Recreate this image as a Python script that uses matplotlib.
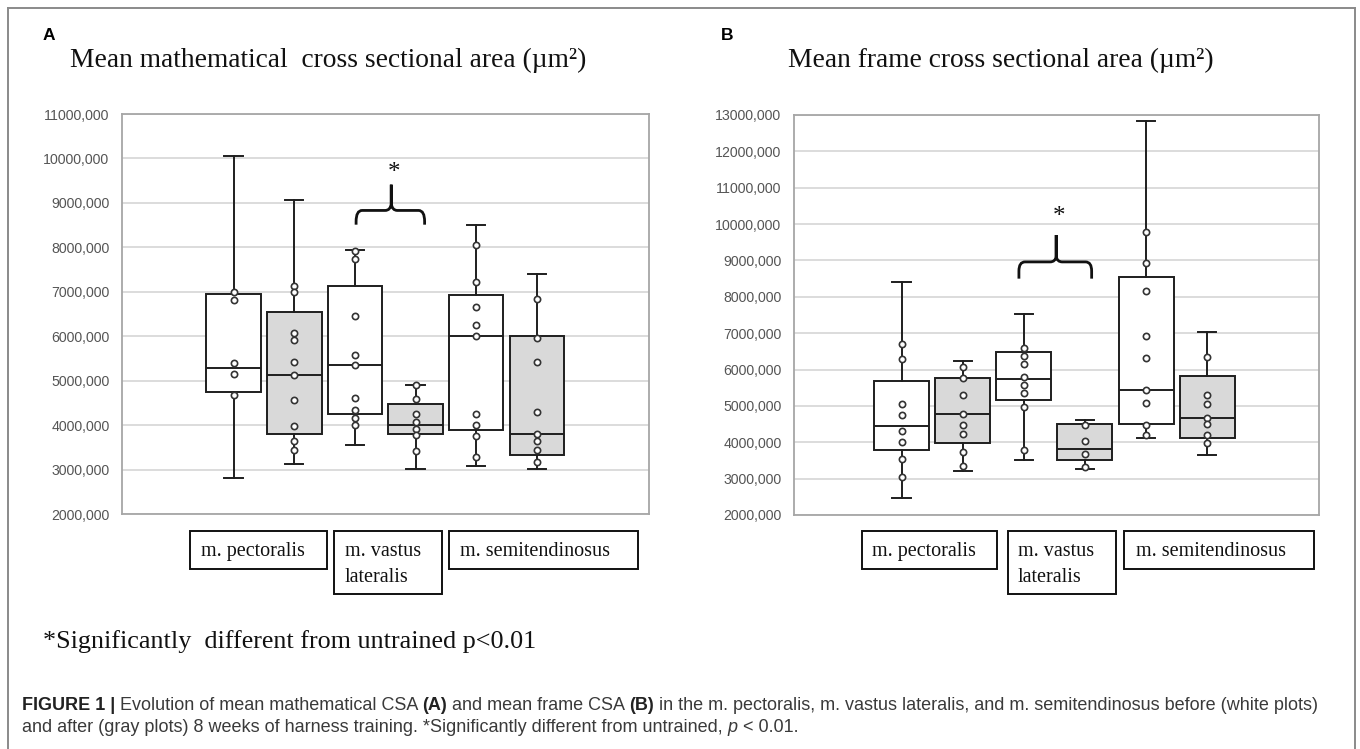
import numpy as np
import matplotlib
matplotlib.use("Agg")
import matplotlib.pyplot as plt
from matplotlib.patches import Rectangle, PathPatch
from matplotlib.path import Path
from matplotlib import font_manager

# ---------------- data (values in millions of µm²) -------------
muscles = ["m. pectoralis", "m. vastus\nlateralis", "m. semitendinosus"]
groups = ["untrained", "trained", "untrained", "trained", "untrained", "trained"]

A_whishi = [10.06, 9.06, 7.93, 4.91, 8.50, 7.41]
A_q3 = [6.96, 6.54, 7.14, 4.47, 6.92, 6.00]
A_med = [5.28, 5.13, 5.36, 4.00, 6.00, 3.80]
A_q1 = [4.74, 3.80, 4.24, 3.80, 3.89, 3.32]
A_whislo = [2.80, 3.12, 3.56, 3.02, 3.08, 3.02]
A_points = [
    [7.00, 6.81, 5.39, 5.15, 4.68],
    [7.14, 6.99, 6.08, 5.92, 5.41, 5.13, 4.56, 3.97, 3.65, 3.44],
    [7.92, 7.73, 6.46, 5.57, 5.36, 4.62, 4.33, 4.16, 4.00],
    [4.91, 4.59, 4.25, 4.08, 3.91, 3.77, 3.41],
    [8.06, 7.23, 6.66, 6.25, 6.00, 4.24, 4.00, 3.76, 3.29],
    [6.84, 5.95, 5.41, 4.30, 3.81, 3.65, 3.44, 3.16],
]

B_whishi = [8.41, 6.24, 7.54, 4.61, 12.83, 7.04]
B_q3 = [5.69, 5.77, 6.49, 4.50, 8.55, 5.83]
B_med = [4.44, 4.79, 5.74, 3.82, 5.43, 4.68]
B_q1 = [3.79, 3.97, 5.15, 3.50, 4.50, 4.11]
B_whislo = [2.46, 3.21, 3.50, 3.27, 4.11, 3.65]
B_points = [
    [6.70, 6.30, 5.06, 4.75, 4.32, 4.00, 3.53, 3.05],
    [6.06, 5.77, 5.30, 4.79, 4.47, 4.22, 3.72, 3.34],
    [6.59, 6.37, 6.15, 5.80, 5.58, 5.36, 4.97, 3.79],
    [4.47, 4.04, 3.68, 3.32],
    [9.78, 8.92, 8.15, 6.93, 6.31, 5.45, 5.09, 4.47, 4.20],
    [6.35, 5.30, 5.06, 4.66, 4.50, 4.20, 3.97],
]

A_ticks = list(range(2, 12))
B_ticks = list(range(2, 14))

title_A = "Mean mathematical  cross sectional area (\u00b5m\u00b2)"
title_B = "Mean frame cross sectional area (\u00b5m\u00b2)"
note = "*Significantly  different from untrained p<0.01"

# ---------------- figure ----------------
W, H = 1360, 749
fig = plt.figure(figsize=(W / 100, H / 100), dpi=100)
fig.patch.set_facecolor("white")

def fx(px):
    return px / W

def fy(py):
    return 1 - py / H

SERIF = "Liberation Serif"
names = {f.name for f in font_manager.fontManager.ttflist}
CAP_FAMILY = "Liberation Sans Narrow" if "Liberation Sans Narrow" in names else "Liberation Sans"
CAP_SIZE = 15.4 if CAP_FAMILY == "Liberation Sans Narrow" else 13.0

# outer frame (open at bottom)
for xs, ys in [([8, 8], [8, 760]), ([8, 1355], [8, 8]), ([1355, 1355], [8, 760])]:
    fig.add_artist(plt.Line2D([fx(v) for v in xs], [fy(v) for v in ys],
                              transform=fig.transFigure, color="#8a8a8a", lw=1.4))

WHITE = "#ffffff"
GRAY = "#d9d9d9"
box_colors = [WHITE, GRAY, WHITE, GRAY, WHITE, GRAY]
LINE = "#1e1e1e"


def brace_path(x0, x1, xc, y_end, y_mid, y_top, rx, ry):
    verts = [
        (x0, y_end), (x0, y_mid - ry),
        (x0, y_mid), (x0 + rx, y_mid),
        (xc - rx, y_mid),
        (xc - rx * 0.15, y_mid), (xc, y_mid + ry * 0.6),
        (xc, y_top),
        (xc, y_mid + ry * 0.6),
        (xc + rx * 0.15, y_mid), (xc + rx, y_mid),
        (x1 - rx, y_mid),
        (x1, y_mid), (x1, y_mid - ry),
        (x1, y_end),
    ]
    codes = [Path.MOVETO, Path.LINETO,
             Path.CURVE3, Path.CURVE3,
             Path.LINETO,
             Path.CURVE3, Path.CURVE3,
             Path.LINETO,
             Path.LINETO,
             Path.CURVE3, Path.CURVE3,
             Path.LINETO,
             Path.CURVE3, Path.CURVE3,
             Path.LINETO]
    return Path(verts, codes)


def draw_panel(rect, whislo, q1, med, q3, whishi, points, ticks, xlim, brace):
    ax = fig.add_axes(rect)
    stats = []
    for i in range(6):
        stats.append(dict(whislo=whislo[i] * 1e6, q1=q1[i] * 1e6, med=med[i] * 1e6,
                          q3=q3[i] * 1e6, whishi=whishi[i] * 1e6, fliers=[]))
    pos = np.arange(1, 7)
    bp = ax.bxp(stats, positions=pos, widths=0.9, patch_artist=True, showfliers=False,
                capwidths=0.3,
                boxprops=dict(edgecolor=LINE, linewidth=1.4),
                medianprops=dict(color=LINE, linewidth=1.4),
                whiskerprops=dict(color=LINE, linewidth=1.4),
                capprops=dict(color=LINE, linewidth=1.4), zorder=3)
    for patch, c in zip(bp["boxes"], box_colors):
        patch.set_facecolor(c)
    for i, pts in enumerate(points):
        ax.plot(np.full(len(pts), pos[i]), np.array(pts) * 1e6, linestyle="none",
                marker="o", markersize=4.5, markerfacecolor="white",
                markeredgecolor="#333333", markeredgewidth=1.2, zorder=4)
    ax.set_xlim(*xlim)
    ax.set_ylim(ticks[0] * 1e6, ticks[-1] * 1e6)
    ax.set_yticks([t * 1e6 for t in ticks])
    ax.set_yticklabels([f"{t}000,000" for t in ticks], fontfamily="Liberation Sans",
                       fontsize=10.2, color="#555555")
    ax.set_xticks([])
    ax.tick_params(axis="y", length=0, pad=9)
    ax.grid(axis="y", color="#d9d9d9", linewidth=1.3, zorder=0)
    ax.set_axisbelow(True)
    for s in ax.spines.values():
        s.set_color("#a6a6a6")
        s.set_linewidth(1.3)
    # significance brace
    x0, x1, xc, y_end, y_mid, y_top, ys = brace
    p = brace_path(x0, x1, xc, y_end * 1e6, y_mid * 1e6, y_top * 1e6, 0.1, 0.25e6)
    ax.add_patch(PathPatch(p, facecolor="none", edgecolor="#111111", lw=2.0, zorder=5))
    ax.text(xc + 0.05, ys * 1e6, "*", family=SERIF, fontsize=18, ha="center", va="center",
            color="#111111")
    return ax


axA = draw_panel([fx(122), fy(514), fx(649) - fx(122), fy(114) - fy(514)],
                 A_whislo, A_q1, A_med, A_q3, A_whishi, A_points, A_ticks, (-0.84, 7.85),
                 (3.02, 4.15, 3.6, 8.51, 8.83, 9.41, 9.68))
axB = draw_panel([fx(794), fy(515), fx(1319) - fx(794), fy(115) - fy(515)],
                 B_whislo, B_q1, B_med, B_q3, B_whishi, B_points, B_ticks, (-0.76, 7.83),
                 (2.92, 4.11, 3.53, 8.50, 8.96, 9.70, 10.2))

# panel letters and titles
fig.text(fx(43), fy(40), "A", family="Liberation Sans", weight="bold", fontsize=12.5, va="baseline")
fig.text(fx(721), fy(40), "B", family="Liberation Sans", weight="bold", fontsize=12.5, va="baseline")
fig.text(fx(70), fy(67), title_A, family=SERIF, fontsize=19.8, va="baseline", color="#111111")
fig.text(fx(788), fy(67), title_B, family=SERIF, fontsize=19.8, va="baseline", color="#111111")

# category label boxes
label_boxes = [
    # (left, right, top, bottom, text_x) in pixels
    [(190, 327, 531, 569, 201), (334, 442, 531, 594, 345), (449, 638, 531, 569, 460)],
    [(862, 997, 531, 569, 872), (1008, 1116, 531, 594, 1018), (1124, 1314, 531, 569, 1136)],
]
for panel in label_boxes:
    for (l, r, t, b, tx), lab in zip(panel, muscles):
        fig.add_artist(Rectangle((fx(l), fy(b)), fx(r) - fx(l), fy(t) - fy(b),
                                 transform=fig.transFigure, facecolor="white",
                                 edgecolor="#111111", lw=1.4))
        lines = lab.split("\n")
        for k, ln in enumerate(lines):
            fig.text(fx(tx), fy(556 + 26 * k), ln, family=SERIF, fontsize=14.5,
                     va="baseline", ha="left", color="#111111")

# significance note
fig.text(fx(43), fy(648), note, family=SERIF, fontsize=18.8, va="baseline", color="#111111")

# caption with mixed styles
renderer = fig.canvas.get_renderer()


def draw_segments(x_px, y_px, segments):
    x = x_px
    for txt, kw in segments:
        t = fig.text(fx(x), fy(y_px), txt, fontsize=CAP_SIZE, va="baseline", ha="left",
                     family=CAP_FAMILY, **kw)
        bb = t.get_window_extent(renderer)
        x += bb.width


reg = dict(color="#3a3a3a")
bold = dict(color="#222222", weight="bold")
ital = dict(color="#3a3a3a", style="italic")
draw_segments(22, 710, [
    ("FIGURE 1 |", bold),
    (" Evolution of mean mathematical CSA ", reg),
    ("(A)", bold),
    (" and mean frame CSA ", reg),
    ("(B)", bold),
    (" in the m. pectoralis, m. vastus lateralis, and m. semitendinosus before (white plots)", reg),
])
draw_segments(22, 732, [
    ("and after (gray plots) 8 weeks of harness training. *Significantly different from untrained, ", reg),
    ("p", ital),
    (" < 0.01.", reg),
])

fig.savefig("out.png", dpi=100)
